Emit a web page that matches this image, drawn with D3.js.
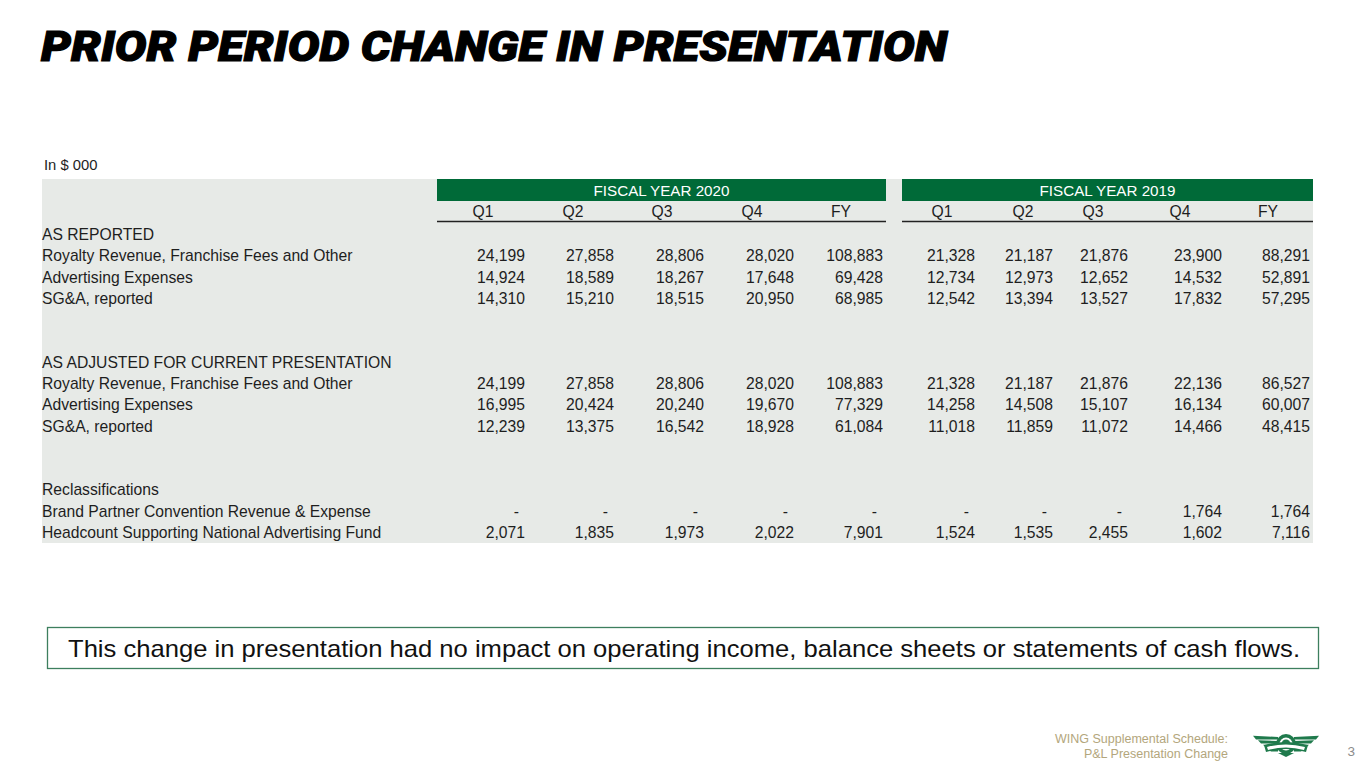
<!DOCTYPE html>
<html>
<head>
<meta charset="utf-8">
<script src="https://cdn.jsdelivr.net/npm/d3@7"></script>
<style>
  html, body { margin: 0; padding: 0; background: #fff; }
  svg { display: block; }
</style>
</head>
<body>
<svg id="slide"></svg>
<script>
// Table content
const periods = ['Q1', 'Q2', 'Q3', 'Q4', 'FY'];
const years = ['FISCAL YEAR 2020', 'FISCAL YEAR 2019'];

const rowLabels = [
  'AS REPORTED',
  'Royalty Revenue, Franchise Fees and Other',
  'Advertising Expenses',
  'SG&A, reported',
  '', '',
  'AS ADJUSTED FOR CURRENT PRESENTATION',
  'Royalty Revenue, Franchise Fees and Other',
  'Advertising Expenses',
  'SG&A, reported',
  '', '',
  'Reclassifications',
  'Brand Partner Convention Revenue & Expense',
  'Headcount Supporting National Advertising Fund'
];

// null = blank cell, 0 = shown as "-"
const values2020 = [
  null,
  [24199, 27858, 28806, 28020, 108883],
  [14924, 18589, 18267, 17648, 69428],
  [14310, 15210, 18515, 20950, 68985],
  null, null, null,
  [24199, 27858, 28806, 28020, 108883],
  [16995, 20424, 20240, 19670, 77329],
  [12239, 13375, 16542, 18928, 61084],
  null, null, null,
  [0, 0, 0, 0, 0],
  [2071, 1835, 1973, 2022, 7901]
];

const values2019 = [
  null,
  [21328, 21187, 21876, 23900, 88291],
  [12734, 12973, 12652, 14532, 52891],
  [12542, 13394, 13527, 17832, 57295],
  null, null, null,
  [21328, 21187, 21876, 22136, 86527],
  [14258, 14508, 15107, 16134, 60007],
  [11018, 11859, 11072, 14466, 48415],
  null, null, null,
  [0, 0, 0, 1764, 1764],
  [1524, 1535, 2455, 1602, 7116]
];

const noteText = 'This change in presentation had no impact on operating income, balance sheets or statements of cash flows.';

const W = 1365, H = 768;
const GREEN = '#006a38';
const GREY_BG = '#e7eae7';
const INK = '#1e1e1e';
const FONT = '"Liberation Sans", Arial, sans-serif';
const CELL_FS = '15.7px';

const svg = d3.select('#slide')
  .attr('width', W)
  .attr('height', H)
  .attr('viewBox', `0 0 ${W} ${H}`);

// Title
svg.append('text')
  .attr('x', 41)
  .attr('y', 61)
  .attr('font-family', 'Roboto, "Open Sans", sans-serif')
  .attr('font-size', '43px')
  .attr('font-weight', 900)
  .attr('font-style', 'italic')
  .attr('fill', '#000')
  .attr('stroke', '#000')
  .attr('stroke-width', 1.2)
  .attr('textLength', 906)
  .attr('lengthAdjust', 'spacingAndGlyphs')
  .text('PRIOR PERIOD CHANGE IN PRESENTATION');

svg.append('text')
  .attr('x', 44)
  .attr('y', 170)
  .attr('font-family', FONT)
  .attr('font-size', '14.8px')
  .attr('fill', INK)
  .text('In $ 000');

// Layout of the two year blocks: [left, right] and per-column value right edges / header centres
const blocks = [
  { extent: [437, 886], valueRight: [525, 614, 704, 794, 883], headCenter: [483, 573, 662, 752, 841], data: values2020 },
  { extent: [902, 1313], valueRight: [975, 1053, 1128, 1222, 1310], headCenter: [942, 1023, 1093, 1180, 1268], data: values2019 }
];

const y = d3.scaleBand()
  .domain(d3.range(rowLabels.length))
  .range([224, 543]);

const fmt = d3.format(',');

// Grey table background
svg.append('rect')
  .attr('x', 42)
  .attr('y', 179)
  .attr('width', 1313 - 42)
  .attr('height', y.range()[1] - 179)
  .attr('fill', GREY_BG);

blocks.forEach((b, bi) => {
  const g = svg.append('g');
  const [x0, x1] = b.extent;

  g.append('rect')
    .attr('x', x0)
    .attr('y', 179)
    .attr('width', x1 - x0)
    .attr('height', 22)
    .attr('fill', GREEN);

  g.append('text')
    .attr('x', (x0 + x1) / 2)
    .attr('y', 196)
    .attr('text-anchor', 'middle')
    .attr('font-family', FONT)
    .attr('font-size', '15.2px')
    .attr('fill', '#fff')
    .text(years[bi]);

  g.selectAll('text.period')
    .data(periods)
    .join('text')
    .attr('class', 'period')
    .attr('x', (d, i) => b.headCenter[i])
    .attr('y', 217)
    .attr('text-anchor', 'middle')
    .attr('font-family', FONT)
    .attr('font-size', CELL_FS)
    .attr('fill', INK)
    .text(d => d);

  g.append('line')
    .attr('x1', x0)
    .attr('x2', x1)
    .attr('y1', 221.5)
    .attr('y2', 221.5)
    .attr('stroke', '#222')
    .attr('stroke-width', 1.4);

  b.data.forEach((row, ri) => {
    if (!row) return;
    g.selectAll(null)
      .data(row)
      .join('text')
      .attr('x', (d, i) => d === 0 ? b.valueRight[i] - 6 : b.valueRight[i])
      .attr('y', y(ri) + y.bandwidth() / 2 + 5.5)
      .attr('text-anchor', 'end')
      .attr('font-family', FONT)
      .attr('font-size', CELL_FS)
      .attr('fill', INK)
      .text(d => d === 0 ? '-' : fmt(d));
  });
});

// Row labels
svg.append('g')
  .selectAll('text')
  .data(rowLabels)
  .join('text')
  .attr('x', 42)
  .attr('y', (d, i) => y(i) + y.bandwidth() / 2 + 5.5)
  .attr('font-family', FONT)
  .attr('font-size', CELL_FS)
  .attr('fill', INK)
  .text(d => d);

// Note box
svg.append('rect')
  .attr('x', 47.5)
  .attr('y', 627.5)
  .attr('width', 1271)
  .attr('height', 41)
  .attr('fill', '#fff')
  .attr('stroke', '#3d7f5e')
  .attr('stroke-width', 1.3);

svg.append('text')
  .attr('x', 68)
  .attr('y', 657)
  .attr('font-family', FONT)
  .attr('font-size', '24px')
  .attr('fill', '#111')
  .attr('textLength', 1232)
  .attr('lengthAdjust', 'spacingAndGlyphs')
  .text(noteText);

// Footer
const foot = svg.append('g')
  .attr('font-family', FONT)
  .attr('font-size', '12.5px')
  .attr('fill', '#b3a67c')
  .attr('text-anchor', 'end');
foot.append('text').attr('x', 1228).attr('y', 743).text('WING Supplemental Schedule:');
foot.append('text').attr('x', 1228).attr('y', 758).text('P&L Presentation Change');

svg.append('text')
  .attr('x', 1355)
  .attr('y', 756)
  .attr('text-anchor', 'end')
  .attr('font-family', FONT)
  .attr('font-size', '13.5px')
  .attr('fill', '#8c8c8c')
  .text('3');

// Logo: winged badge
const logo = svg.append('g')
  .attr('transform', 'translate(1286,745)')
  .attr('fill', '#1f7a4c');
[-1, 1].forEach(s => {
  [0, 1, 2, 3].forEach(k => {
    const yy = -8 + k * 4;
    const len = 33 - k * 5;
    logo.append('path')
      .attr('d', `M${s * 8},${yy} L${s * len},${yy - 1.2 + k * 0.5} L${s * (len - 3)},${yy + 2.4} L${s * 8},${yy + 2.6} Z`);
  });
});
logo.append('circle').attr('r', 10).attr('cy', -1);
logo.append('circle').attr('r', 6.5).attr('cy', -1).attr('fill', '#fff');
logo.append('circle').attr('r', 4.5).attr('cy', -1);
logo.append('path')
  .attr('d', 'M-22,0 Q0,-6 22,0 L20,7 Q0,1 -20,7 Z');
logo.append('path')
  .attr('fill', '#fff')
  .attr('d', 'M-19,2 Q0,-3 19,2 L18,5 Q0,0 -18,5 Z');
logo.append('path')
  .attr('d', 'M-8,8 L0,12 L8,8 Z');
</script>
</body>
</html>
